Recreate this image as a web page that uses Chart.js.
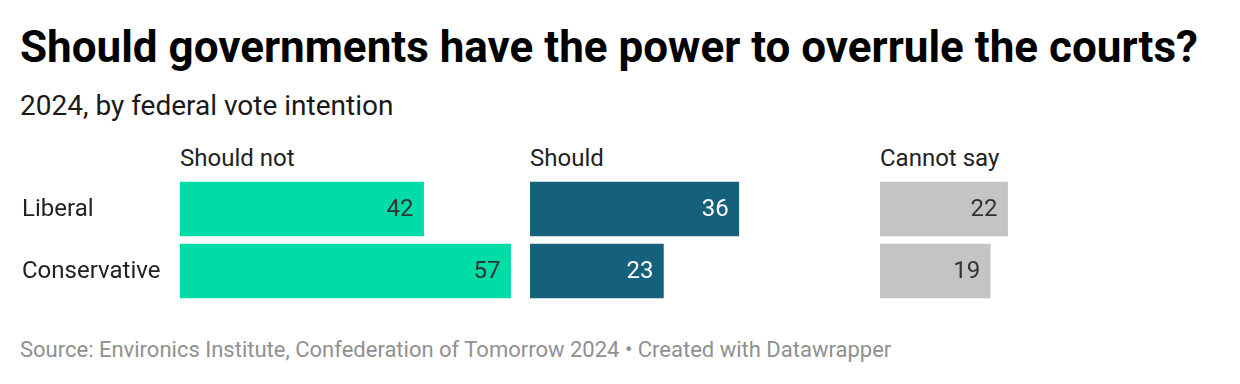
<!DOCTYPE html>
<html>
<head>
<meta charset="utf-8">
<script src="https://cdn.jsdelivr.net/npm/chart.js@4.4.0/dist/chart.umd.min.js"></script>
<style>
  body { margin: 0; width: 1240px; height: 384px; background: #fff; font-family: Roboto, sans-serif; position: relative; overflow: hidden; }
  .txt { position: absolute; white-space: nowrap; }
  #title { left: 20px; top: 18px; font-size: 44px; font-weight: 700; line-height: 58px; color: #000; }
  #subtitle { left: 20px; top: 90px; font-size: 28px; line-height: 32px; color: #1a1a1a; }
  .head { top: 144px; font-size: 24px; line-height: 28px; color: #222; }
  #footer { left: 20px; top: 337px; font-size: 22px; line-height: 26px; color: #909090; }
  .box { position: absolute; top: 178px; height: 124px; }
</style>
</head>
<body>
<div id="title" class="txt">Should governments have the power to overrule the courts?</div>
<div id="subtitle" class="txt">2024, by federal vote intention</div>
<div class="txt head" style="left:180px">Should not</div>
<div class="txt head" style="left:530px">Should</div>
<div class="txt head" style="left:880px">Cannot say</div>
<div class="box" style="left:0; width:528px"><canvas id="c1"></canvas></div>
<div class="box" style="left:530px; width:348px"><canvas id="c2"></canvas></div>
<div class="box" style="left:880px; width:348px"><canvas id="c3"></canvas></div>
<div id="footer" class="txt">Source: Environics Institute, Confederation of Tomorrow 2024 • Created with Datawrapper</div>

<script>
const categories = ['Liberal', 'Conservative'];
const shouldNot = [42, 57];
const should = [36, 23];
const cannotSay = [22, 19];

Chart.defaults.font.family = 'Roboto';
Chart.defaults.animation = false;

// 値ラベル（バーの右端の内側）とカテゴリ名
const valueLabels = {
  id: 'valueLabels',
  afterDatasetsDraw(chart, args, opts) {
    const ctx = chart.ctx;
    const meta = chart.getDatasetMeta(0);
    ctx.save();
    ctx.font = '24px Roboto';
    ctx.textBaseline = 'middle';
    meta.data.forEach((bar, i) => {
      ctx.fillStyle = opts.color;
      ctx.textAlign = 'right';
      ctx.fillText(chart.data.datasets[0].data[i], bar.x - 10, bar.y + 1);
      if (opts.showLabels) {
        ctx.fillStyle = '#222';
        ctx.textAlign = 'left';
        ctx.fillText(chart.data.labels[i], 22, chart.scales.y.getPixelForValue(i) + 1);
      }
    });
    ctx.restore();
  }
};

function makeChart(id, values, color, labelColor, showLabels) {
  return new Chart(document.getElementById(id), {
    type: 'bar',
    data: {
      labels: categories,
      datasets: [{ data: values, backgroundColor: color, barThickness: 54 }]
    },
    options: {
      indexAxis: 'y',
      responsive: true,
      maintainAspectRatio: false,
      layout: { padding: { left: showLabels ? 180 : 0, right: 0, top: 0, bottom: 0 } },
      plugins: {
        legend: { display: false },
        tooltip: { enabled: false },
        valueLabels: { color: labelColor, showLabels: showLabels }
      },
      scales: {
        x: { display: false, min: 0, max: 60 },
        y: { display: false }
      }
    },
    plugins: [valueLabels]
  });
}

makeChart('c1', shouldNot, '#00dca6', '#333333', true);
makeChart('c2', should, '#15607a', '#ffffff', false);
makeChart('c3', cannotSay, '#c4c4c4', '#333333', false);
</script>
</body>
</html>
